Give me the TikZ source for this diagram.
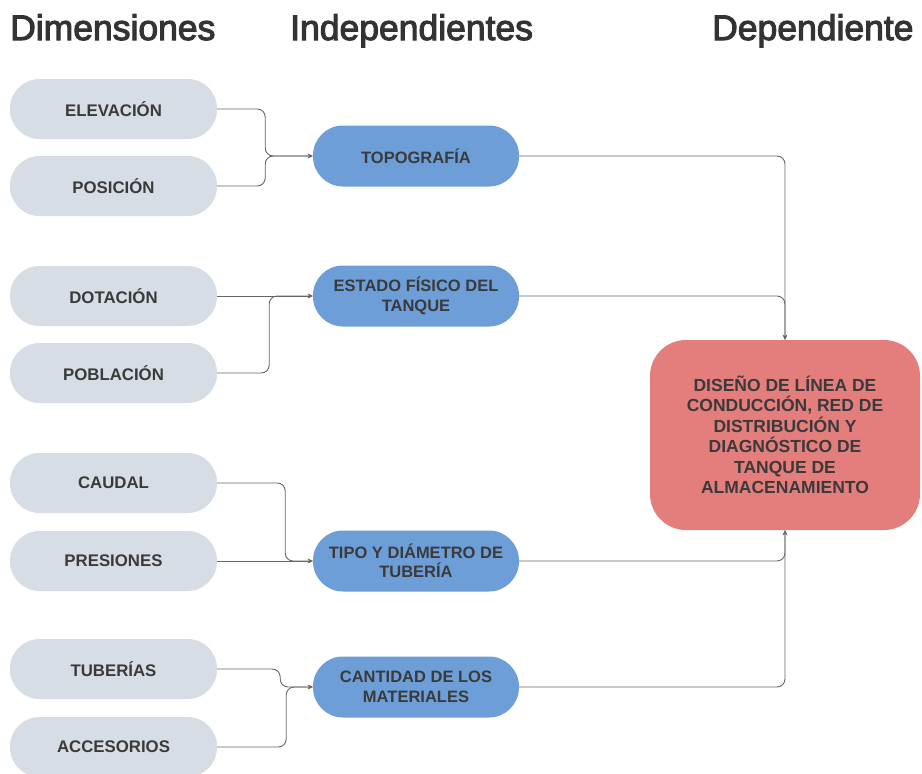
\documentclass[tikz,border=0pt]{standalone}
\usepackage{fontspec}
\setmainfont{Liberation Sans}
\newfontfamily\headfont[FakeBold=3]{Liberation Sans}
\usetikzlibrary{arrows.meta}
\definecolor{pillgray}{HTML}{D7DDE5}
\definecolor{pillblue}{HTML}{6E9ED8}
\definecolor{boxred}{HTML}{E47E7D}
\definecolor{txt}{HTML}{3A3A3A}
\definecolor{headtxt}{HTML}{333333}
\definecolor{conncol}{HTML}{666666}
\begin{document}
\begin{tikzpicture}[x=1pt,y=1pt,
  header/.style={anchor=base west,inner sep=0pt,text=headtxt,font=\headfont\fontsize{35.5}{40}\selectfont},
  dimpill/.style={fill=pillgray,draw=none,minimum width=207pt,minimum height=60pt,rounded corners=29.5pt,
    text=txt,font=\fontsize{16.8}{19}\selectfont\bfseries,align=center,inner sep=0pt},
  indpill/.style={fill=pillblue,draw=none,minimum width=206pt,minimum height=61pt,rounded corners=30pt,
    text=txt,font=\fontsize{16.5}{19.5}\selectfont\bfseries,align=center,inner sep=0pt},
  depbox/.style={fill=boxred,draw=none,minimum width=270pt,minimum height=190pt,rounded corners=36pt,
    text=txt,font=\fontsize{17.5}{20.5}\selectfont\bfseries,align=center,inner sep=0pt},
  conn/.style={draw=conncol,line width=0.9pt,rounded corners=8pt,-{Stealth[length=5pt,width=4.5pt]}}
]
\useasboundingbox (0,0) rectangle (922,-774);
\fill[white] (0,0) rectangle (922,-774);

\node[header] (h1) at (10,-40) {Dimensiones};
\node[header] (h2) at (290,-40) {Independientes};
\node[header] (h3) at (712,-40) {Dependiente};

\node[dimpill] (elev) at (113.5,-109) {ELEVACIÓN};
\node[dimpill] (pos)  at (113.5,-186) {POSICIÓN};
\node[dimpill] (dot)  at (113.5,-296) {DOTACIÓN};
\node[dimpill] (pob)  at (113.5,-373) {POBLACIÓN};
\node[dimpill] (cau)  at (113.5,-483) {CAUDAL};
\node[dimpill] (pres) at (113.5,-561) {PRESIONES};
\node[dimpill] (tub)  at (113.5,-669) {TUBERÍAS};
\node[dimpill] (acc)  at (113.5,-747) {ACCESORIOS};

\node[indpill] (topo) at (416,-156) {TOPOGRAFÍA};
\node[indpill] (est)  at (416,-296) {ESTADO FÍSICO DEL\\TANQUE};
\node[indpill] (tipo) at (416,-561) {TIPO Y DIÁMETRO DE\\TUBERÍA};
\node[indpill] (cant) at (416,-687) {CANTIDAD DE LOS\\MATERIALES};

\node[depbox] (dep) at (785,-435) {DISEÑO DE LÍNEA DE\\CONDUCCIÓN, RED DE\\DISTRIBUCIÓN Y\\DIAGNÓSTICO DE\\TANQUE DE\\ALMACENAMIENTO};

\draw[conn] (elev.east) -- ++(48,0) |- (topo.west);
\draw[conn] (pos.east) -- ++(48,0) |- (topo.west);
\draw[conn] (dot.east) -- (est.west);
\draw[conn] (pob.east) -- ++(52,0) |- (est.west);
\draw[conn] (cau.east) -- ++(68,0) |- (tipo.west);
\draw[conn] (pres.east) -- (tipo.west);
\draw[conn] (tub.east) -- ++(63,0) |- (cant.west);
\draw[conn] (acc.east) -- ++(69,0) |- (cant.west);

\draw[conn] (topo.east) -| (dep.north);
\draw[conn] (est.east) -| (dep.north);
\draw[conn] (tipo.east) -| (dep.south);
\draw[conn] (cant.east) -| (dep.south);
\end{tikzpicture}
\end{document}
